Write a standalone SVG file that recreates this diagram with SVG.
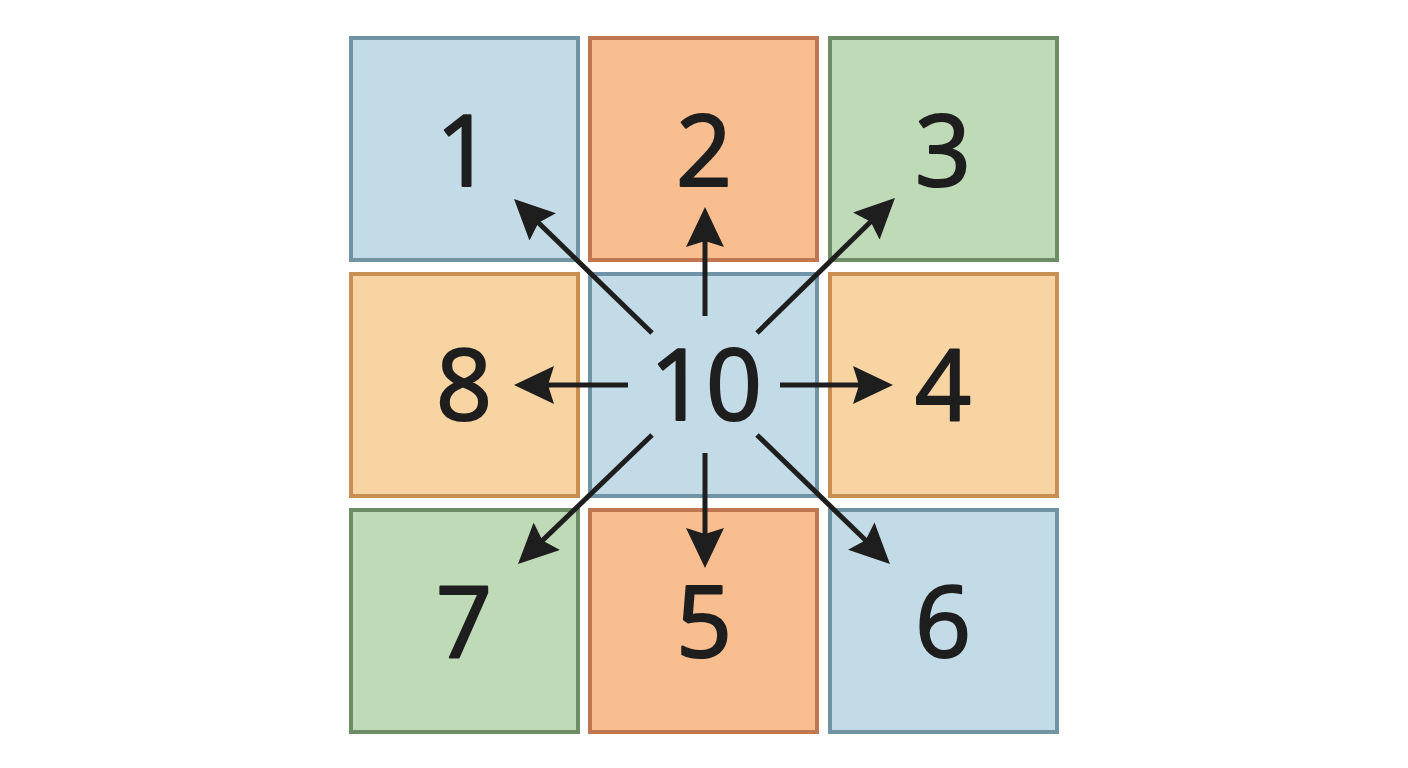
<svg xmlns="http://www.w3.org/2000/svg" width="1408" height="768" viewBox="0 0 1408 768">
<style>
.box{stroke-width:4}
.blue{fill:#c3dbe6;stroke:#7094a6}
.orange{fill:#f8be90;stroke:#c07652}
.green{fill:#bfdab7;stroke:#6e8c66}
.peach{fill:#f8d4a2;stroke:#c98e52}
.lbl{font-family:"Open Sans","Noto Sans",sans-serif;font-size:98px;fill:#1e1e1e;stroke:#1e1e1e;stroke-width:2.2;stroke-linejoin:round;text-anchor:middle}
.arr{stroke:#1e1e1e;stroke-width:5;fill:none;marker-end:url(#ah)}
</style>
<defs>
<marker id="ah" viewBox="0 0 40 38" refX="30" refY="19" markerWidth="40" markerHeight="38" markerUnits="userSpaceOnUse" orient="auto">
<path d="M0,0 L40,19 L0,38 L6,19 z" fill="#1e1e1e"/>
</marker>
</defs>
<rect width="1408" height="768" fill="#ffffff"/>
<g id="n1"><rect class="box blue" x="351" y="38" width="227" height="222"/><text class="lbl" x="464" y="186">1</text></g>
<g id="n2"><rect class="box orange" x="590" y="38" width="227" height="222"/><text class="lbl" x="704" y="186">2</text></g>
<g id="n3"><rect class="box green" x="830" y="38" width="227" height="222"/><text class="lbl" x="943" y="186">3</text></g>
<g id="n8"><rect class="box peach" x="351" y="274" width="227" height="222"/><text class="lbl" x="464" y="420">8</text></g>
<g id="n10"><rect class="box blue" x="590" y="274" width="227" height="222"/><text class="lbl" x="706" y="420">10</text></g>
<g id="n4"><rect class="box peach" x="830" y="274" width="227" height="222"/><text class="lbl" x="943" y="420">4</text></g>
<g id="n7"><rect class="box green" x="351" y="510" width="227" height="222"/><text class="lbl" x="464" y="657">7</text></g>
<g id="n5"><rect class="box orange" x="590" y="510" width="227" height="222"/><text class="lbl" x="704" y="657">5</text></g>
<g id="n6"><rect class="box blue" x="830" y="510" width="227" height="222"/><text class="lbl" x="943" y="657">6</text></g>
<g id="connectors">
<line class="arr" x1="652" y1="333" x2="521.2" y2="206"/>
<line class="arr" x1="705" y1="316" x2="705" y2="217"/>
<line class="arr" x1="757" y1="333" x2="887.8" y2="205"/>
<line class="arr" x1="780" y1="385" x2="883" y2="385"/>
<line class="arr" x1="628" y1="385" x2="524" y2="385"/>
<line class="arr" x1="652" y1="435" x2="525.2" y2="557.1"/>
<line class="arr" x1="705" y1="453" x2="705" y2="558"/>
<line class="arr" x1="757" y1="435" x2="882.8" y2="557"/>
</g>
</svg>
